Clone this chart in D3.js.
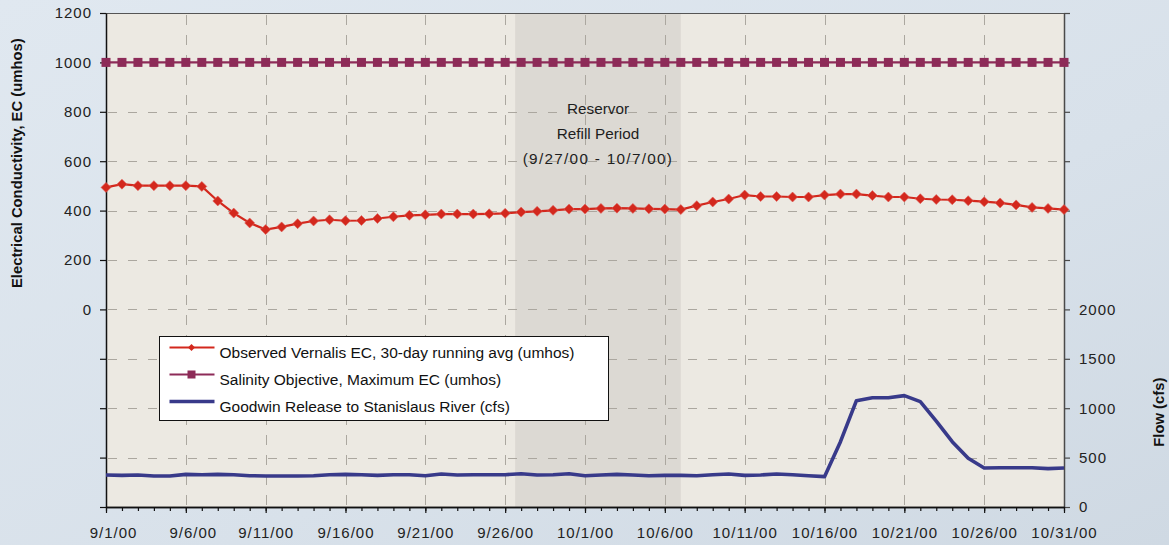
<!DOCTYPE html>
<html>
<head>
<meta charset="utf-8">
<script src="https://cdn.jsdelivr.net/npm/d3@7"></script>
<style>
  html, body { margin: 0; padding: 0; }
  body { width: 1169px; height: 545px; overflow: hidden; }
  svg { display: block; font-family: 'Liberation Sans', Arial, sans-serif; }
</style>
</head>
<body>
<div id="chart"></div>
<script>
// categories: one per day, 9/1/00 .. 10/31/00
const dates = [
  '9/1/00', '9/2/00', '9/3/00', '9/4/00', '9/5/00', '9/6/00', '9/7/00', '9/8/00', '9/9/00', '9/10/00',
  '9/11/00', '9/12/00', '9/13/00', '9/14/00', '9/15/00', '9/16/00', '9/17/00', '9/18/00', '9/19/00', '9/20/00',
  '9/21/00', '9/22/00', '9/23/00', '9/24/00', '9/25/00', '9/26/00', '9/27/00', '9/28/00', '9/29/00', '9/30/00',
  '10/1/00', '10/2/00', '10/3/00', '10/4/00', '10/5/00', '10/6/00', '10/7/00', '10/8/00', '10/9/00', '10/10/00',
  '10/11/00', '10/12/00', '10/13/00', '10/14/00', '10/15/00', '10/16/00', '10/17/00', '10/18/00', '10/19/00', '10/20/00',
  '10/21/00', '10/22/00', '10/23/00', '10/24/00', '10/25/00', '10/26/00', '10/27/00', '10/28/00', '10/29/00', '10/30/00',
  '10/31/00'
]

// Observed Vernalis EC, 30-day running avg (umhos)
const ecObserved = [
  494, 507, 501, 501, 501, 501, 498, 439, 390, 350,
  323, 334, 347, 358, 363, 359, 360, 368, 375, 381,
  383, 386, 386, 386, 387, 389, 394, 397, 401, 406,
  406, 409, 410, 409, 407, 406, 404, 420, 435, 447,
  463, 457, 457, 455, 455, 463, 467, 467, 461, 455,
  455, 448, 445, 444, 440, 436, 431, 423, 413, 409,
  404
]

// Salinity Objective, Maximum EC (umhos)
const ecObjective = [
  1000, 1000, 1000, 1000, 1000, 1000, 1000, 1000, 1000, 1000,
  1000, 1000, 1000, 1000, 1000, 1000, 1000, 1000, 1000, 1000,
  1000, 1000, 1000, 1000, 1000, 1000, 1000, 1000, 1000, 1000,
  1000, 1000, 1000, 1000, 1000, 1000, 1000, 1000, 1000, 1000,
  1000, 1000, 1000, 1000, 1000, 1000, 1000, 1000, 1000, 1000,
  1000, 1000, 1000, 1000, 1000, 1000, 1000, 1000, 1000, 1000,
  1000
]

// Goodwin Release to Stanislaus River (cfs)
const flow = [
  324, 320, 324, 314, 314, 330, 327, 330, 327, 317,
  314, 314, 314, 317, 327, 330, 327, 320, 327, 327,
  317, 334, 324, 327, 327, 327, 337, 324, 327, 337,
  317, 324, 330, 324, 317, 320, 320, 317, 327, 334,
  320, 324, 334, 327, 317, 307, 661, 1076, 1106, 1106,
  1127, 1066, 870, 661, 493, 395, 398, 398, 398, 388,
  395
]

const refillPeriod = ['2000-09-26T15:00:00Z', '2000-10-07T00:00:00Z']
const refillLabel = ['Reservor', 'Refill Period', '(9/27/00 - 10/7/00)']

const leftTicks = [-800, -600, -400, -200, 0, 200, 400, 600, 800, 1000, 1200]
const rightTicks = [0, 500, 1000, 1500, 2000, 2500, 3000, 3500, 4000, 4500, 5000]

const legendItems = [
  'Observed Vernalis EC, 30-day running avg (umhos)',
  'Salinity Objective, Maximum EC (umhos)',
  'Goodwin Release to Stanislaus River (cfs)'
]

/**
 * Layout
 */
const W = 1169
const H = 545
const m = { left: 106, right: 1064, top: 13, bottom: 507 }

const c_red = '#d3281d'
const c_plum = '#8d2b58'
const c_blue = '#383a8a'
const c_grid = '#aba79f'

const parse = d3.utcParse('%m/%d/%y')
const fmt = d3.utcFormat('%-m/%-d/%y')
const days = dates.map(parse)

const x = d3.scaleUtc().domain(d3.extent(days)).range([m.left, m.right])
const yL = d3.scaleLinear().domain([-800, 1200]).range([m.bottom, m.top])
const yR = d3.scaleLinear().domain([0, 5000]).range([m.bottom, m.top])

const svg = d3.select('#chart')
  .append('svg')
  .attr('width', W)
  .attr('height', H)

// page background
let grad = svg.append('defs').append('linearGradient')
  .attr('id', 'bg').attr('x1', 0).attr('y1', 0).attr('x2', 1).attr('y2', 1)
grad.append('stop').attr('offset', 0).attr('stop-color', '#e0e8f0')
grad.append('stop').attr('offset', 0.6).attr('stop-color', '#d8e1ea')
grad.append('stop').attr('offset', 1).attr('stop-color', '#cfd9e3')
svg.append('rect').attr('width', W).attr('height', H).attr('fill', 'url(#bg)')

// plot area
svg.append('rect')
  .attr('x', m.left).attr('y', m.top)
  .attr('width', m.right - m.left).attr('height', m.bottom - m.top)
  .attr('fill', '#ece9e2')

// refill period shading
let r0 = x(new Date(refillPeriod[0]))
let r1 = x(new Date(refillPeriod[1]))
svg.append('rect')
  .attr('x', r0).attr('y', m.top)
  .attr('width', r1 - r0).attr('height', m.bottom - m.top)
  .attr('fill', '#dcd9d3')

// grid
let majorDays = days.filter((d, i) => i % 5 === 0)
let grid = svg.append('g').attr('stroke', c_grid).attr('stroke-width', 1)
grid.selectAll('.hg')
  .data(leftTicks.filter(v => v > -800 && v < 1200))
  .enter().append('line')
  .attr('x1', m.left + 2).attr('x2', m.right)
  .attr('y1', d => Math.round(yL(d)) + 0.5).attr('y2', d => Math.round(yL(d)) + 0.5)
  .attr('stroke-dasharray', '9,11')
grid.selectAll('.vg')
  .data(majorDays.slice(1, -1))
  .enter().append('line')
  .attr('x1', d => Math.round(x(d)) + 0.5).attr('x2', d => Math.round(x(d)) + 0.5)
  .attr('y1', m.top + 2).attr('y2', m.bottom)
  .attr('stroke-dasharray', '10,10')

// refill annotation
let ann = svg.append('g')
  .attr('text-anchor', 'middle')
  .attr('fill', '#1e1e1e')
  .style('font-size', '15.3px')
ann.selectAll('text')
  .data(refillLabel)
  .enter().append('text')
  .attr('x', (r0 + r1) / 2)
  .attr('y', (d, i) => 114 + i * 25)
  .style('letter-spacing', (d, i) => i === 2 ? '1.3px' : '0px')
  .text(d => d)

// top border
svg.append('line')
  .attr('x1', m.left).attr('x2', m.right)
  .attr('y1', m.top + 0.5).attr('y2', m.top + 0.5)
  .attr('stroke', '#555').attr('stroke-width', 1)

function styleAxis (g, color) {
  g.select('.domain').attr('stroke', color).attr('stroke-width', 1.5)
  g.selectAll('.tick line').attr('stroke', color).attr('stroke-width', 1.2)
  g.selectAll('text')
    .attr('fill', '#222')
    .style('font-size', '15px')
    .style('letter-spacing', '1px')
    .style('font-family', "'Liberation Sans', Arial, sans-serif")
}

// left axis
svg.append('g')
  .attr('transform', `translate(${m.left},0)`)
  .call(d3.axisLeft(yL).tickValues(leftTicks).tickSize(6).tickSizeOuter(0).tickPadding(8)
    .tickFormat(d => d >= 0 ? d : ''))
  .call(g => styleAxis(g, '#111'))

// right axis
svg.append('g')
  .attr('transform', `translate(${m.right},0)`)
  .call(d3.axisRight(yR).tickValues(rightTicks).tickSize(6).tickSizeOuter(0).tickPadding(9)
    .tickFormat(d => d <= 2000 ? d : ''))
  .call(g => styleAxis(g, '#4a4a4a'))

// bottom axis: minor day ticks, then labelled 5-day ticks
svg.append('g')
  .attr('transform', `translate(0,${m.bottom})`)
  .call(d3.axisBottom(x).tickValues(days).tickSize(4).tickSizeOuter(0).tickFormat(''))
  .call(g => styleAxis(g, '#111'))
svg.append('g')
  .attr('transform', `translate(0,${m.bottom})`)
  .call(d3.axisBottom(x).tickValues(majorDays).tickSize(6).tickSizeOuter(0).tickPadding(14)
    .tickFormat(fmt))
  .call(g => styleAxis(g, '#111'))
  .call(g => g.selectAll('text').attr('dx', d => fmt(d).length < 7 ? 7 : 0))

// axis titles
svg.append('text')
  .attr('transform', `translate(21.5,${(yL(0) + yL(1200)) / 2 + 2}) rotate(-90)`)
  .attr('text-anchor', 'middle')
  .style('font-size', '14.8px')
  .style('font-weight', 'bold')
  .attr('fill', '#111')
  .text('Electrical Conductivity, EC (umhos)')

svg.append('text')
  .attr('transform', `translate(1164,${(yR(0) + yR(2000)) / 2 + 4}) rotate(-90)`)
  .attr('text-anchor', 'middle')
  .style('font-size', '14.8px')
  .style('font-weight', 'bold')
  .attr('fill', '#111')
  .text('Flow (cfs)')

// flow line
svg.append('path')
  .datum(flow)
  .attr('fill', 'none')
  .attr('stroke', c_blue)
  .attr('stroke-width', 3.6)
  .attr('stroke-linejoin', 'round')
  .attr('d', d3.line().x((d, i) => x(days[i])).y(d => yR(d)))

// observed EC
let diamond = (r) => `M0,${-r}L${r},0L0,${r}L${-r},0Z`
svg.append('path')
  .datum(ecObserved)
  .attr('fill', 'none')
  .attr('stroke', c_red)
  .attr('stroke-width', 2.2)
  .attr('d', d3.line().x((d, i) => x(days[i])).y(d => yL(d)))
svg.append('g').selectAll('path')
  .data(ecObserved)
  .enter().append('path')
  .attr('transform', (d, i) => `translate(${x(days[i])},${yL(d)})`)
  .attr('d', diamond(5))
  .attr('fill', c_red)
  .attr('stroke', '#e0605a')
  .attr('stroke-width', 0.6)

// salinity objective
svg.append('path')
  .datum(ecObjective)
  .attr('fill', 'none')
  .attr('stroke', c_plum)
  .attr('stroke-width', 2.2)
  .attr('d', d3.line().x((d, i) => x(days[i])).y(d => yL(d)))
svg.append('g').selectAll('rect')
  .data(ecObjective)
  .enter().append('rect')
  .attr('x', (d, i) => x(days[i]) - 4.5)
  .attr('y', d => yL(d) - 4.5)
  .attr('width', 9)
  .attr('height', 9)
  .attr('fill', c_plum)

// legend
let lg = svg.append('g').attr('transform', 'translate(159.5,336.5)')
lg.append('rect')
  .attr('width', 449).attr('height', 84)
  .attr('fill', '#fff').attr('stroke', '#111').attr('stroke-width', 1)
let rows = lg.selectAll('.row')
  .data(legendItems)
  .enter().append('g')
  .attr('transform', (d, i) => `translate(0,${11 + i * 27})`)
rows.append('line')
  .attr('x1', 10).attr('x2', 55).attr('y1', 0).attr('y2', 0)
  .attr('stroke', (d, i) => [c_red, c_plum, c_blue][i])
  .attr('stroke-width', (d, i) => i === 2 ? 3.6 : 1.8)
rows.filter((d, i) => i === 0).append('path')
  .attr('transform', 'translate(32,0)')
  .attr('d', diamond(3.5))
  .attr('fill', c_red)
rows.filter((d, i) => i === 1).append('rect')
  .attr('x', 28).attr('y', -4).attr('width', 8).attr('height', 8)
  .attr('fill', c_plum)
rows.append('text')
  .attr('x', 60)
  .attr('y', 10)
  .attr('fill', '#111')
  .style('font-size', '15.5px')
  .text(d => d)
</script>
</body>
</html>
